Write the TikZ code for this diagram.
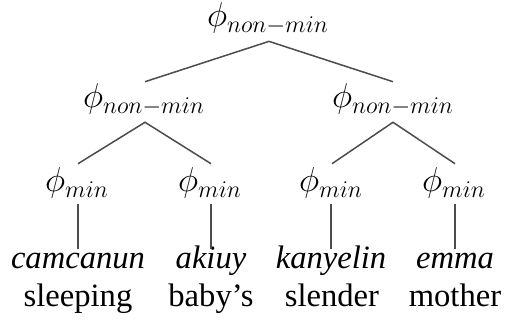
\documentclass[tikz,border=0pt]{standalone}
\usepackage{fontspec}
\setmainfont{Liberation Serif}
\usetikzlibrary{calc}
\tikzset{
  phinode/.style={inner sep=0pt, outer sep=0pt, font=\fontsize{16.4}{19}\selectfont, text height=0.694em, text depth=0.194em},
  wordnode/.style={inner sep=0pt, outer sep=0pt, anchor=base, font=\fontsize{16.3}{19}\selectfont\itshape, text height=0.69em, text depth=0.22em},
  glossnode/.style={inner sep=0pt, outer sep=0pt, anchor=base, font=\fontsize{16.3}{19}\selectfont},
  branch/.style={draw=black!70, line width=0.75pt}
}
\begin{document}
\begin{tikzpicture}[x=0.5pt, y=-0.5pt]
\useasboundingbox (0,0) rectangle (505,320);
% phrase nodes
\node[phinode] (root) at (268,22) {$\phi_{non-min}$};
\node[phinode] (L) at (144,103) {$\phi_{non-min}$};
\node[phinode] (R) at (393,103) {$\phi_{non-min}$};
\node[phinode] (m1) at (77,187) {$\phi_{min}$};
\node[phinode] (m2) at (210,187) {$\phi_{min}$};
\node[phinode] (m3) at (331,187) {$\phi_{min}$};
\node[phinode] (m4) at (454,187) {$\phi_{min}$};
% words
\node[wordnode] (w1) at (78,269) {camcanun};
\node[wordnode] (w2) at (211,269) {akiuy};
\node[wordnode] (w3) at (331,269) {kanyelin};
\node[wordnode] (w4) at (455,269) {emma};
\node[glossnode] (g1) at (78,307) {sleeping};
\node[glossnode] (g2) at (211,307) {baby’s};
\node[glossnode] (g3) at (332,307) {slender};
\node[glossnode] (g4) at (455,307) {mother};
% branches
\draw[branch] ($(L.north)+(1,-12.4)$) -- ($(root.south)+(1,10.5)$) -- ($(R.north)+(0,-12.4)$);
\draw[branch] ($(m1.north)+(1,-14.4)$) -- ($(L.south)+(1,10.4)$) -- ($(m2.north)+(1,-14.4)$);
\draw[branch] ($(m3.north)+(1,-14.4)$) -- ($(R.south)+(0,10.4)$) -- ($(m4.north)+(1,-14.4)$);
\draw[branch] ($(m1.south)+(1,8.4)$) -- ($(w1.north)+(0,-6.5)$);
\draw[branch] ($(m2.south)+(1,8.4)$) -- ($(w2.north)+(0,-6.5)$);
\draw[branch] ($(m3.south)+(0,8.4)$) -- ($(w3.north)+(0,-6.5)$);
\draw[branch] ($(m4.south)+(1,8.4)$) -- ($(w4.north)+(0,-6.5)$);
\end{tikzpicture}
\end{document}
